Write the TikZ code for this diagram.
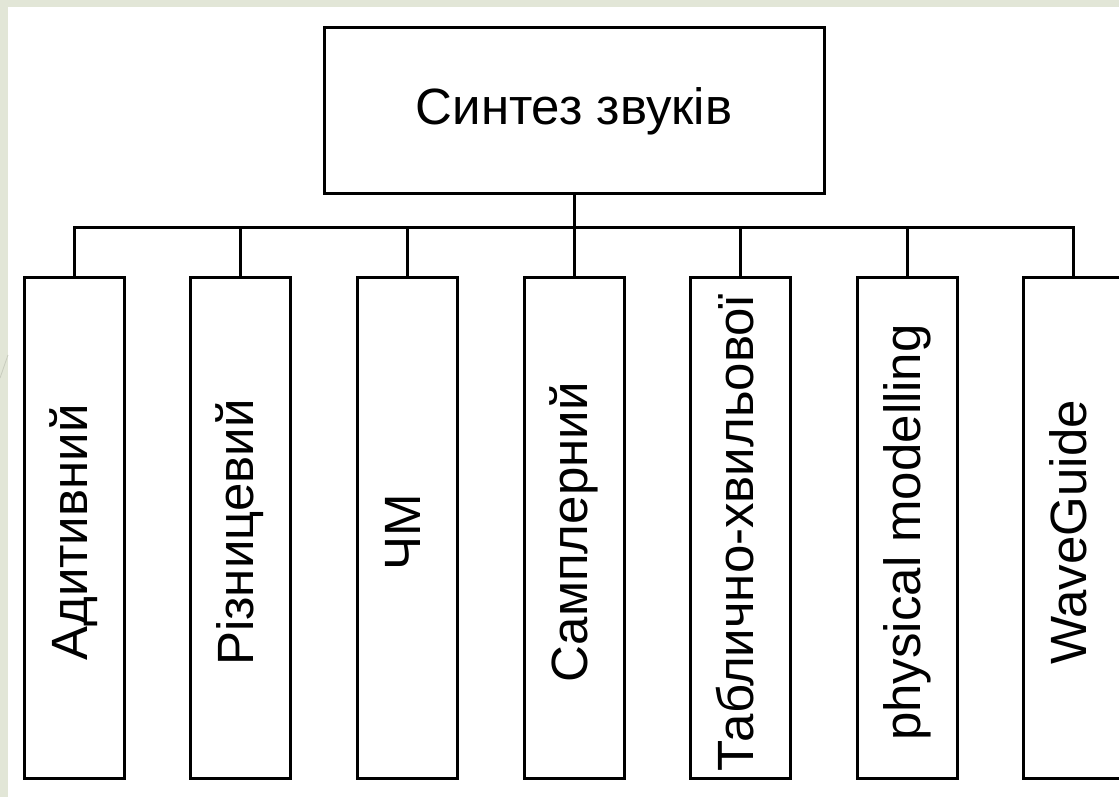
\documentclass[tikz,border=0pt]{standalone}
\usepackage{fontspec}
\setmainfont{Liberation Sans}
\usetikzlibrary{calc}
\definecolor{stripcol}{RGB}{226,230,215}
\definecolor{edgecol}{RGB}{200,204,190}
\tikzset{
  topbox/.style={draw=black, line width=3pt, fill=white, minimum width=500pt, minimum height=165pt, inner sep=0pt},
  childbox/.style={draw=black, line width=3pt, fill=white, minimum width=100pt, minimum height=501pt, inner sep=0pt},
  lbl/.style={font=\fontsize{51}{60}\selectfont, inner sep=0pt, anchor=base},
  vlbl/.style={lbl, rotate=90},
  conn/.style={draw=black, line width=3pt, line join=miter}
}
\begin{document}
\begin{tikzpicture}[x=1pt,y=-1pt]
\useasboundingbox (0,0) rectangle (1119,797);
\fill[stripcol] (0,0) rectangle (1119,797);
\fill[white] (8,7) rectangle (1119,797);
\draw[edgecol, line width=0.8pt] (0,378) -- (8,355);

\node[topbox] (top) at (574,110.5) {};
\node[lbl] (toptext) at (574,125) {Синтез звуків};

\node[childbox] (c1) at (74,527.5) {};
\node[childbox] (c2) at (240.5,527.5) {};
\node[childbox] (c3) at (407,527.5) {};
\node[childbox] (c4) at (574,527.5) {};
\node[childbox] (c5) at (740.5,527.5) {};
\node[childbox] (c6) at (907,527.5) {};
\node[childbox] (c7) at (1073,527.5) {};

\coordinate (bus) at (574,227.5);

\draw[conn] (top.south) -- (top.south |- bus);
\draw[conn] (c1.north) -- (c1.north |- bus) -- (c7.north |- bus) -- (c7.north);
\foreach \i in {2,...,6} { \draw[conn] (c\i.north) -- (c\i.north |- bus); }

\node[vlbl] (t1) at ($(c1.center)+(13,5)$) {Адитивний};
\node[vlbl] (t2) at ($(c2.center)+(13,5)$) {Різницевий};
\node[vlbl] (t3) at ($(c3.center)+(13,5)$) {ЧМ};
\node[vlbl] (t4) at ($(c4.center)+(13,5)$) {Самплерний};
\node[vlbl] (t5) at ($(c5.center)+(13,5)$) {Таблично-хвильової};
\node[vlbl] (t6) at ($(c6.center)+(13,5)$) {physical modelling};
\node[vlbl] (t7) at ($(c7.center)+(13,5)$) {WaveGuide};
\end{tikzpicture}
\end{document}
